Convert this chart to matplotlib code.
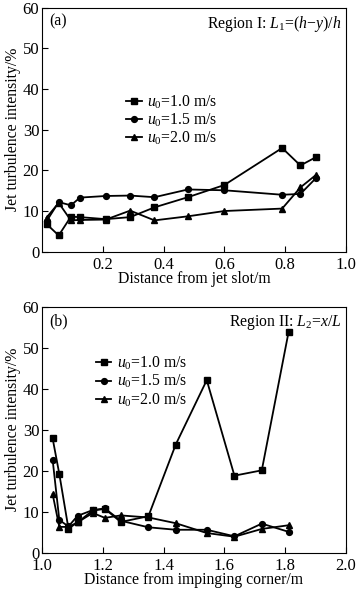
import numpy as np
import matplotlib
matplotlib.use("Agg")
import matplotlib.pyplot as plt
from matplotlib.legend_handler import HandlerLine2D
from matplotlib.ticker import MultipleLocator

plt.rcParams["font.family"] = ["Liberation Serif", "DejaVu Serif"]
plt.rcParams["mathtext.fontset"] = "custom"
plt.rcParams["mathtext.rm"] = "Liberation Serif"
plt.rcParams["mathtext.it"] = "Liberation Serif:italic"
plt.rcParams["font.size"] = 11

# panel (a): region I
xa = [0.015, 0.055, 0.095, 0.125, 0.21, 0.29, 0.37, 0.48, 0.60, 0.79, 0.85, 0.90]
a_10 = [6.8, 4.0, 8.6, 8.5, 8.0, 8.5, 10.9, 13.4, 16.4, 25.5, 21.2, 23.2]
a_15 = [7.5, 12.2, 11.4, 13.3, 13.7, 13.8, 13.4, 15.3, 15.1, 14.0, 14.2, 18.0]
a_20 = [8.4, 12.0, 7.7, 7.8, 7.9, 10.1, 7.7, 8.7, 10.0, 10.6, 15.8, 18.8]

# panel (b): region II
xb = [1.035, 1.057, 1.087, 1.117, 1.167, 1.207, 1.259, 1.35, 1.44, 1.542, 1.633, 1.723, 1.811]
b_10 = [27.9, 19.2, 5.9, 7.4, 10.3, 10.7, 7.5, 8.9, 26.4, 42.1, 18.8, 20.1, 53.8]
b_15 = [22.7, 8.0, 6.4, 9.0, 10.4, 10.8, 7.8, 6.2, 5.6, 5.6, 4.0, 7.1, 5.1]
b_20 = [14.3, 6.3, 6.3, 7.4, 9.7, 8.5, 9.1, 8.6, 7.2, 4.8, 3.9, 5.8, 6.7]

labels = ["$u_0$=1.0 m/s", "$u_0$=1.5 m/s", "$u_0$=2.0 m/s"]
markers = ["s", "o", "^"]


class MarkerLeft(HandlerLine2D):
    # marker on the left, short line on the right, like the original legend
    def get_xdata(self, legend, xdescent, ydescent, width, height, fontsize):
        xline = np.array([-xdescent + 0.3 * width, -xdescent + width])
        xmark = np.array([-xdescent])
        return xline, xmark


fig = plt.figure(figsize=(3.57, 5.90), dpi=100)
ax1 = fig.add_axes([0.1176, 0.5734, 0.8516, 0.4136])
ax2 = fig.add_axes([0.1176, 0.0632, 0.8516, 0.4168])

def draw(ax, x, series, legend_anchor):
    lines = []
    for ys, m, lab in zip(series, markers, labels):
        ms = 4.2 if m != "^" else 4.6
        l, = ax.plot(x, ys, color="black", lw=1.3, marker=m, ms=ms, label=lab)
        lines.append(l)
    ax.legend(handles=lines, loc="upper left", bbox_to_anchor=legend_anchor,
              frameon=False, numpoints=1, handlelength=1.4, handletextpad=0.35,
              labelspacing=0.05, borderaxespad=0, fontsize=11.3,
              handler_map={l: MarkerLeft() for l in lines})
    ax.set_ylim(0, 60)
    ax.yaxis.set_major_locator(MultipleLocator(10))
    ax.tick_params(direction="in", length=4, width=0.8, top=False, right=False,
                   labelsize=12)
    ax.tick_params(axis="y", pad=2)
    ax.tick_params(axis="x", pad=3.5)
    for s in ax.spines.values():
        s.set_linewidth(0.8)
    ax.set_ylabel("Jet turbulence intensity/%", fontsize=11.3, labelpad=1)

draw(ax1, xa, [a_10, a_15, a_20], (0.235, 0.675))
ax1.set_xlim(0, 1.0)
ax1.set_xticks([0.2, 0.4, 0.6, 0.8, 1.0])
ax1.set_xticklabels(["0.2", "0.4", "0.6", "0.8", "1.0"])
ax1.set_xlabel("Distance from jet slot/m", fontsize=11.3, labelpad=-1)
ax1.text(0.025, 0.975, "(a)", transform=ax1.transAxes, ha="left", va="top", fontsize=11.3)
ax1.text(0.985, 0.975, "Region I: $L_1$=($h$\u2212$y$)/$h$", transform=ax1.transAxes,
         ha="right", va="top", fontsize=11.3)

draw(ax2, xb, [b_10, b_15, b_20], (0.135, 0.83))
ax2.set_xlim(1.0, 2.0)
ax2.set_xticks([1.0, 1.2, 1.4, 1.6, 1.8, 2.0])
ax2.set_xticklabels(["1.0", "1.2", "1.4", "1.6", "1.8", "2.0"])
ax2.set_xlabel("Distance from impinging corner/m", fontsize=11.3, labelpad=-1)
ax2.text(0.025, 0.975, "(b)", transform=ax2.transAxes, ha="left", va="top", fontsize=11.3)
ax2.text(0.985, 0.975, "Region II: $L_2$=$x$/$L$", transform=ax2.transAxes,
         ha="right", va="top", fontsize=11.3)

fig.savefig("out.png", dpi=100)
